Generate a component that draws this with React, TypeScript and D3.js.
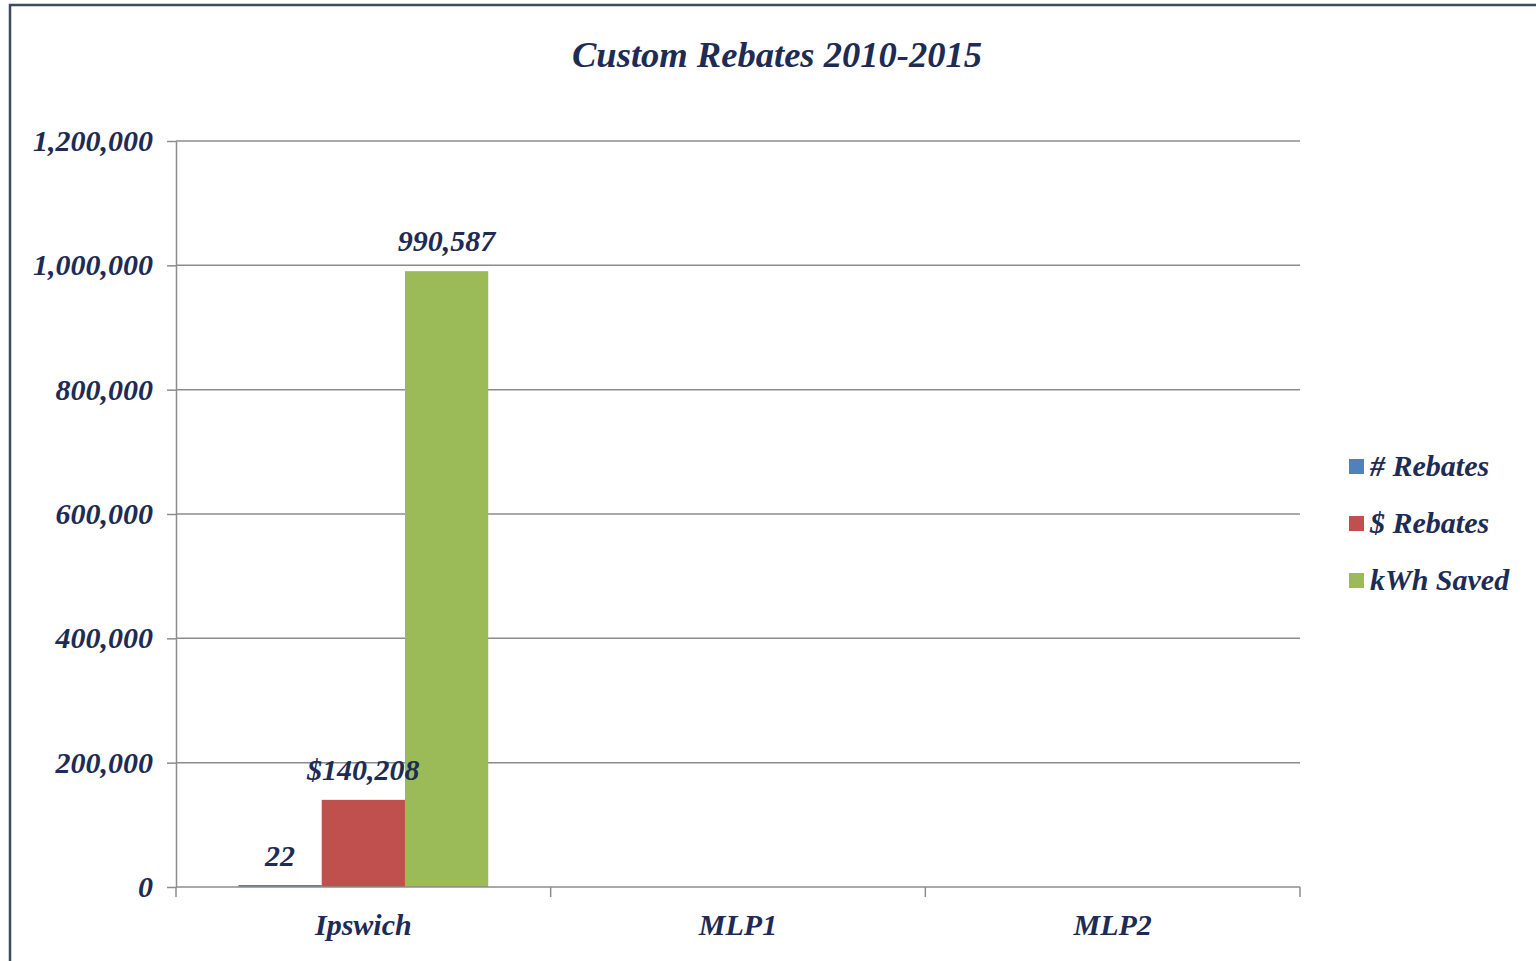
import * as React from 'react';
import * as d3 from 'd3';

const categories = ['Ipswich', 'MLP1', 'MLP2'];
const seriesNames = ['# Rebates', '$ Rebates', 'kWh Saved'];
const seriesColors = ['#4f81bd', '#c0504d', '#9bbb59'];
const numRebates = [22, 0, 0];
const dollarRebates = [140208, 0, 0];
const kwhSaved = [990587, 0, 0];
const labelText = [['22', '', ''], ['$140,208', '', ''], ['990,587', '', '']];
const yTicks = [0, 200000, 400000, 600000, 800000, 1000000, 1200000];

const W = 1536;
const H = 961;
const navy = '#1d2b55';
const font = '"Liberation Serif", "Times New Roman", serif';

export default function App() {
  const ref = React.useRef<SVGSVGElement>(null);

  React.useEffect(() => {
    const svg = d3.select(ref.current);
    svg.selectAll('*').remove();

    const left = 176, right = 1300, top = 141, bottom = 887;
    const x = d3.scaleBand().domain(categories).range([left, right]).paddingInner(0).paddingOuter(0);
    const y = d3.scaleLinear().domain([0, 1200000]).range([bottom, top]);
    const series = [numRebates, dollarRebates, kwhSaved];

    // frame
    svg.append('rect').attr('x', 0).attr('y', 0).attr('width', W).attr('height', H).attr('fill', '#fff');
    svg.append('path').attr('d', `M10,${H} L10,5 L${W},5`).attr('fill', 'none')
      .attr('stroke', '#3d4a5e').attr('stroke-width', 2.5);

    // title
    svg.append('text').attr('x', 777).attr('y', 67).attr('text-anchor', 'middle')
      .attr('font-family', font).attr('font-weight', 'bold').attr('font-style', 'italic')
      .attr('font-size', 35).attr('fill', navy)
      .attr('textLength', 410).attr('lengthAdjust', 'spacingAndGlyphs')
      .text('Custom Rebates 2010-2015');

    // gridlines
    svg.append('g').selectAll('line').data(yTicks.slice(1)).enter().append('line')
      .attr('x1', left).attr('x2', right).attr('y1', d => y(d)).attr('y2', d => y(d))
      .attr('stroke', '#8c8c8c').attr('stroke-width', 1.5);

    // y axis
    const yAxis = svg.append('g').attr('transform', `translate(${left},0)`)
      .call(d3.axisLeft(y).tickValues(yTicks).tickSize(9).tickSizeOuter(0).tickPadding(14)
        .tickFormat(d => d3.format(',')(d as number)));
    yAxis.select('.domain').attr('stroke', '#8c8c8c').attr('stroke-width', 1.5);
    yAxis.selectAll('.tick line').attr('stroke', '#8c8c8c').attr('stroke-width', 1.5);
    yAxis.selectAll('.tick text').attr('font-family', font).attr('font-weight', 'bold')
      .attr('font-style', 'italic').attr('font-size', 30).attr('fill', navy);

    // bars
    const inner = d3.scaleBand().domain(seriesNames).range([0, x.bandwidth()])
      .paddingInner(0).paddingOuter(0.75);
    const g = svg.append('g');
    series.forEach((vals, si) => {
      g.selectAll(`.bar${si}`).data(categories).enter().append('rect')
        .attr('x', c => (x(c) as number) + (inner(seriesNames[si]) as number))
        .attr('width', inner.bandwidth())
        .attr('y', (c, i) => y(vals[i]) - (vals[i] > 0 && vals[i] < 5000 ? 2 : 0))
        .attr('height', (c, i) => bottom - y(vals[i]) + (vals[i] > 0 && vals[i] < 5000 ? 2 : 0))
        .attr('fill', seriesColors[si]);
    });

    // x axis
    svg.append('line').attr('x1', left).attr('x2', right).attr('y1', bottom).attr('y2', bottom)
      .attr('stroke', '#8c8c8c').attr('stroke-width', 1.5);
    const bounds = [...categories.map(c => x(c) as number), right];
    svg.append('g').selectAll('line').data(bounds).enter().append('line')
      .attr('x1', d => d).attr('x2', d => d).attr('y1', bottom).attr('y2', bottom + 10)
      .attr('stroke', '#8c8c8c').attr('stroke-width', 1.5);
    svg.append('g').selectAll('text').data(categories).enter().append('text')
      .attr('x', c => (x(c) as number) + x.bandwidth() / 2).attr('y', 935)
      .attr('text-anchor', 'middle').attr('font-family', font).attr('font-weight', 'bold')
      .attr('font-style', 'italic').attr('font-size', 30).attr('fill', navy)
      .text(c => c);

    // data labels
    series.forEach((vals, si) => {
      g.selectAll(`.lab${si}`).data(categories).enter().append('text')
        .attr('x', c => (x(c) as number) + (inner(seriesNames[si]) as number) + inner.bandwidth() / 2)
        .attr('y', (c, i) => y(vals[i]) - (si === 0 ? 21 : 20))
        .attr('text-anchor', 'middle').attr('font-family', font).attr('font-weight', 'bold')
        .attr('font-style', 'italic').attr('font-size', 30).attr('fill', navy)
        .text((c, i) => labelText[si][i]);
    });

    // legend
    const lg = svg.append('g').attr('transform', 'translate(1349,459)');
    seriesNames.forEach((n, i) => {
      lg.append('rect').attr('x', 0).attr('y', i * 57).attr('width', 15).attr('height', 15)
        .attr('fill', seriesColors[i]);
      lg.append('text').attr('x', 21).attr('y', i * 57 + 17)
        .attr('font-family', font).attr('font-weight', 'bold').attr('font-style', 'italic')
        .attr('font-size', 30).attr('fill', navy).text(n);
    });
  }, []);

  return (
    <svg ref={ref} width={W} height={H} style={{ position: 'absolute', left: 0, top: 0 }} />
  );
}
